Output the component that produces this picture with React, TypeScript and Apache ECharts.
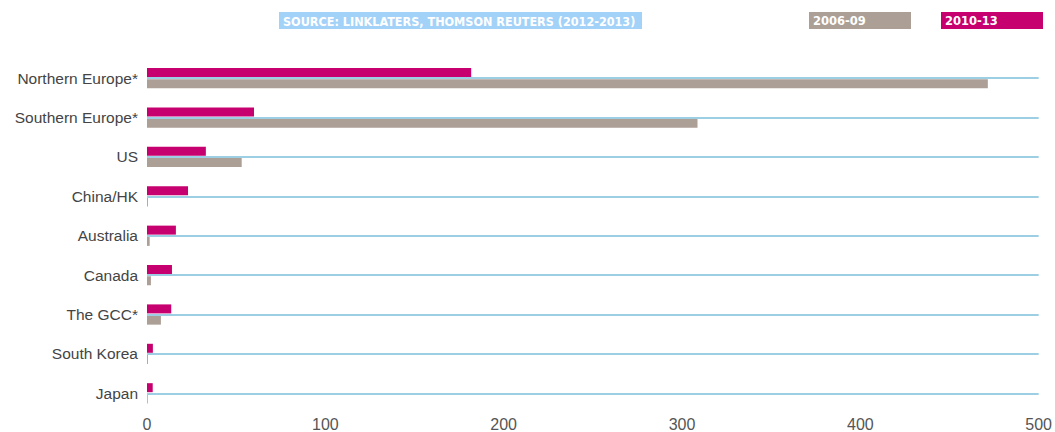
import React, { useEffect, useRef } from "react";
import * as echarts from "echarts";

const categories = [
  "Northern Europe*",
  "Southern Europe*",
  "US",
  "China/HK",
  "Australia",
  "Canada",
  "The GCC*",
  "South Korea",
  "Japan",
];
const values2010_13 = [181.8, 60, 33, 23, 16.2, 14, 13.6, 3.3, 3.2];
const values2006_09 = [471.5, 308.7, 53.1, 0.5, 1.5, 2.2, 7.8, 0.5, 0.4];
const seriesNames = ["2010-13", "2006-09"];
const xTicks = { min: 0, max: 500, interval: 100 };
const sourceText = "SOURCE: LINKLATERS, THOMSON REUTERS (2012-2013)";

const PINK = "#c6006e";
const GRAY = "#ac9f96";
const LINE = "#9ccfe3";
const SRC_BG = "#a3d2f8";
const SANS = "'Liberation Sans', 'Roboto', sans-serif";

export default function App() {
  const ref = useRef<HTMLDivElement>(null);
  useEffect(() => {
    if (!ref.current) return;
    const chart = echarts.init(ref.current, null, { renderer: "svg" });
    chart.setOption({
      animation: false,
      backgroundColor: "#ffffff",
      grid: { left: 147, right: 13, top: 58.5, bottom: 18.5, containLabel: false },
      xAxis: {
        type: "value",
        min: xTicks.min,
        max: xTicks.max,
        interval: xTicks.interval,
        axisLine: { show: false },
        axisTick: { show: false },
        splitLine: { show: false },
        axisLabel: { color: "#555", fontSize: 16, fontFamily: SANS, margin: 3 },
      },
      yAxis: {
        type: "category",
        data: categories,
        inverse: true,
        axisLine: { show: false },
        axisTick: { show: false },
        splitLine: { show: false },
        axisLabel: { color: "#444", fontSize: 15.5, fontFamily: SANS, margin: 9 },
      },
      series: [
        {
          name: "rows",
          type: "line",
          data: [],
          silent: true,
          z: 1,
          markLine: {
            silent: true,
            symbol: ["none", "none"],
            label: { show: false },
            lineStyle: { color: LINE, width: 2, type: "solid" },
            data: categories.map((c) => ({ yAxis: c })),
          },
        },
        {
          name: seriesNames[0],
          type: "bar",
          data: values2010_13,
          barWidth: 9,
          barGap: "25%",
          z: 3,
          itemStyle: { color: PINK },
        },
        {
          name: seriesNames[1],
          type: "bar",
          data: values2006_09,
          barWidth: 9,
          barGap: "25%",
          z: 3,
          itemStyle: { color: GRAY },
        },
      ],
      graphic: [
        { type: "rect", shape: { x: 279, y: 12, width: 363, height: 17 }, style: { fill: SRC_BG } },
        {
          type: "text",
          x: 283,
          y: 21,
          style: {
            text: sourceText,
            fill: "#fff",
            fontFamily: "'DejaVu Sans Condensed', 'DejaVu Sans', sans-serif",
            fontWeight: "bold",
            fontSize: 12.5,
            verticalAlign: "middle",
          },
        },
        { type: "rect", shape: { x: 809, y: 12, width: 102, height: 17 }, style: { fill: GRAY } },
        {
          type: "text",
          x: 813,
          y: 21,
          style: {
            text: seriesNames[1],
            fill: "#fff",
            fontFamily: "'DejaVu Sans', sans-serif",
            fontWeight: "bold",
            fontSize: 11.5,
            verticalAlign: "middle",
          },
        },
        { type: "rect", shape: { x: 941, y: 12, width: 102, height: 17 }, style: { fill: PINK } },
        {
          type: "text",
          x: 945,
          y: 21,
          style: {
            text: seriesNames[0],
            fill: "#fff",
            fontFamily: "'DejaVu Sans', sans-serif",
            fontWeight: "bold",
            fontSize: 11.5,
            verticalAlign: "middle",
          },
        },
      ],
    });
    return () => chart.dispose();
  }, []);
  return (
    <div
      ref={ref}
      style={{ position: "absolute", left: 0, top: 0, width: 1055, height: 432 }}
    />
  );
}
